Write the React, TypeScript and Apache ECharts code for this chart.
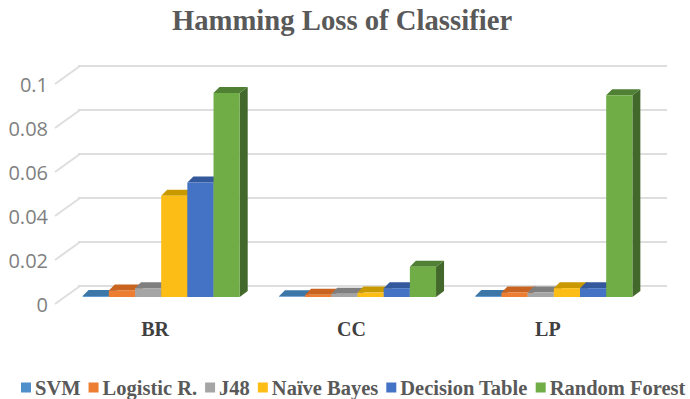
import React, { useEffect, useRef } from "react";
import * as echarts from "echarts";

const categories = ["BR", "CC", "LP"];
const classifiers = ["SVM", "Logistic R.", "J48", "Naïve Bayes", "Decision Table", "Random Forest"];
const svm = [0.0004, 0.0003, 0.0004];
const logisticR = [0.003, 0.001, 0.002];
const j48 = [0.004, 0.0015, 0.002];
const naiveBayes = [0.046, 0.002, 0.004];
const decisionTable = [0.052, 0.004, 0.004];
const randomForest = [0.0927, 0.0138, 0.0917];
const seriesValues = [svm, logisticR, j48, naiveBayes, decisionTable, randomForest];
const yTicks = [0, 0.02, 0.04, 0.06, 0.08, 0.1];

const frontColors = ["#4f8fca", "#ed7d31", "#a5a5a5", "#fdbd17", "#4472c4", "#70ad47"];
const topColors = ["#3d77a8", "#c8641f", "#7f7f7f", "#c99a00", "#34589c", "#4f8034"];
const sideColors = ["#2f5f88", "#9f4e17", "#666666", "#a07a00", "#2a4680", "#43682b"];

const BAR_DX = 8;
const BAR_DY = 6;
const WALL_DX = 23;
const WALL_DY = 18;

export default function App() {
  const ref = useRef<HTMLDivElement>(null);
  useEffect(() => {
    document.body.style.margin = "0";
    const chart = echarts.init(ref.current!, undefined, { renderer: "svg" });
    const hiddenAxis = { show: false };
    const barSeries = classifiers.map((name, s) => ({
      type: "custom",
      name,
      xAxisIndex: 1,
      yAxisIndex: 1,
      z: 5 + s,
      clip: false,
      itemStyle: { color: frontColors[s] },
      data: seriesValues[s].map((v, i) => [i, v]),
      encode: { x: 0, y: 1 },
      renderItem: (_p: any, api: any) => {
        const i = api.value(0);
        const v = api.value(1);
        const band = api.size([1, 0])[0];
        const w = (band * 0.8) / classifiers.length;
        const base = api.coord([i, 0]);
        const top = api.coord([i, v]);
        const x0 = base[0] - (w * classifiers.length) / 2 + w * s;
        const x1 = x0 + w;
        const yb = base[1];
        const yt = top[1];
        return {
          type: "group",
          children: [
            {
              type: "polygon",
              shape: { points: [[x1, yt], [x1 + BAR_DX, yt - BAR_DY], [x1 + BAR_DX, yb - BAR_DY], [x1, yb]] },
              style: { fill: sideColors[s] },
            },
            {
              type: "polygon",
              shape: { points: [[x0, yt], [x0 + BAR_DX - 2, yt - BAR_DY], [x1 + BAR_DX, yt - BAR_DY], [x1, yt]] },
              style: { fill: topColors[s] },
            },
            { type: "rect", shape: { x: x0, y: yt, width: w, height: Math.max(yb - yt, 0) }, style: { fill: frontColors[s] } },
          ],
        };
      },
    }));

    chart.setOption({
      animation: false,
      backgroundColor: "#ffffff",
      title: {
        text: "Hamming Loss of Classifier",
        left: 337,
        top: 0,
        textAlign: "center",
        textStyle: { fontFamily: "Liberation Serif", fontWeight: "bold", fontSize: 28.7, color: "#595959" },
      },
      legend: {
        left: 16,
        top: 372,
        width: 680,
        itemGap: 8,
        itemWidth: 10,
        itemHeight: 10,
        icon: "rect",
        data: classifiers,
        textStyle: {
          fontFamily: "Liberation Serif",
          fontWeight: "bold",
          fontSize: 20.5,
          color: "#595959",
          padding: [0, 0, 0, -1],
        },
      },
      grid: [
        { left: 57, top: 84, width: 589, height: 220 },
        { left: 63, top: 77, width: 589, height: 220 },
        { left: 78, top: 66, width: 589, height: 220 },
      ],
      xAxis: [
        {
          type: "category",
          gridIndex: 0,
          data: categories,
          axisLine: { show: false },
          axisTick: { show: false },
          axisLabel: {
            margin: 15,
            fontFamily: "Liberation Serif",
            fontWeight: "bold",
            fontSize: 20,
            color: "#404040",
          },
        },
        { type: "category", gridIndex: 1, data: categories, ...hiddenAxis },
        { type: "category", gridIndex: 2, data: categories, ...hiddenAxis },
      ],
      yAxis: [
        {
          type: "value",
          gridIndex: 0,
          min: 0,
          max: 0.1,
          interval: 0.02,
          splitLine: { show: false },
          axisLine: { show: false },
          axisTick: { show: false },
          axisLabel: { margin: 9, fontFamily: "Open Sans", fontSize: 20, color: "#7f7f7f" },
        },
        { type: "value", gridIndex: 1, min: 0, max: 0.1, interval: 0.02, ...hiddenAxis },
        {
          type: "value",
          gridIndex: 2,
          min: 0,
          max: 0.1,
          interval: 0.02,
          axisLine: { show: false },
          axisTick: { show: false },
          axisLabel: { show: false },
          splitLine: { show: true, lineStyle: { color: "#dedede", width: 2 } },
        },
      ],
      series: [
        {
          type: "custom",
          xAxisIndex: 0,
          yAxisIndex: 0,
          z: 1,
          clip: false,
          silent: true,
          data: yTicks.map((t) => [0, t]),
          encode: { x: 0, y: 1 },
          renderItem: (_p: any, api: any) => {
            const band = api.size([1, 0])[0];
            const c = api.coord([0, api.value(1)]);
            const x = c[0] - band / 2;
            return {
              type: "line",
              shape: { x1: x - 2, y1: c[1], x2: x + WALL_DX, y2: c[1] - WALL_DY },
              style: { stroke: "#dedede", lineWidth: 2 },
            };
          },
        },
        ...barSeries,
      ],
    });
    return () => chart.dispose();
  }, []);
  return <div ref={ref} style={{ position: "absolute", left: 0, top: 0, width: 690, height: 399 }} />;
}
